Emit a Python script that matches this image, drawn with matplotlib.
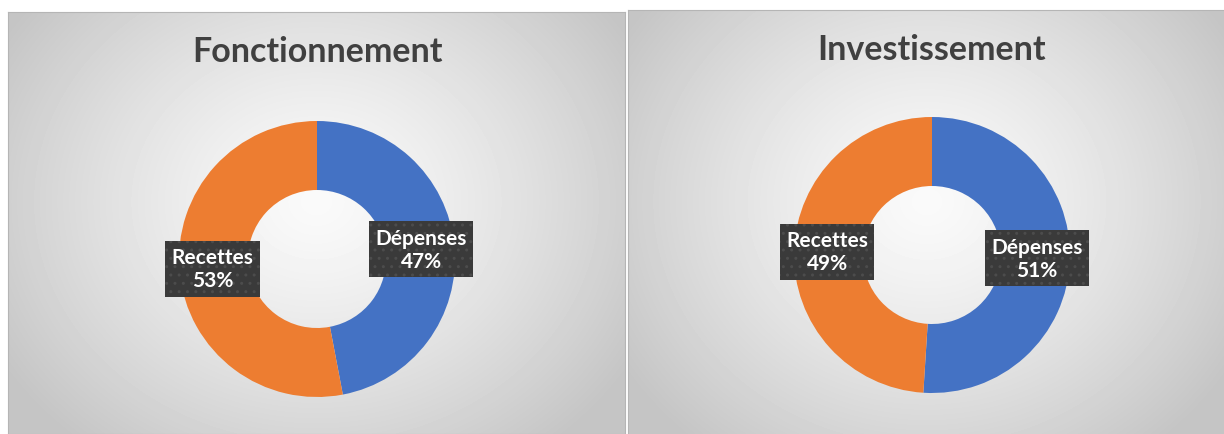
import numpy as np
import matplotlib
matplotlib.use("Agg")
import matplotlib.pyplot as plt

W, H = 1224, 435

titles = ["Fonctionnement", "Investissement"]
categories = ["Dépenses", "Recettes"]
shares = [[47, 53], [51, 49]]
colors = ["#4472C4", "#ED7D31"]

# panel boxes (pixels: left, top, right, bottom) and donut centers/radius
panels = [(8, 13, 625, 435), (628, 11, 1226, 437)]
centers = [(317, 260), (932, 256)]
radius = 138
title_y = [52, 50]

plt.rcParams["font.family"] = ["Lato", "DejaVu Sans"]
fig = plt.figure(figsize=(W / 100, H / 100), dpi=100)
fig.patch.set_facecolor("white")


def frac(x0, y0, x1, y1):
    return [x0 / W, 1 - y1 / H, (x1 - x0) / W, (y1 - y0) / H]


for i in range(2):
    x0, y0, x1, y1 = panels[i]
    bg = fig.add_axes(frac(x0, y0, x1, y1))
    pw, ph = x1 - x0, y1 - y0
    xx, yy = np.meshgrid(np.linspace(-1, 1, pw), np.linspace(-1, 1, ph))
    d = np.sqrt(xx ** 2 + ((yy + 0.1) * 0.8) ** 2)
    shade = 0.98 - 0.21 * np.clip(d / 1.2, 0, 1) ** 1.3
    bg.imshow(shade, cmap="gray", vmin=0, vmax=1, aspect="auto")
    bg.set_xticks([])
    bg.set_yticks([])
    for s in bg.spines.values():
        s.set_color("#b5b5b5")
        s.set_linewidth(0.8)

    cx, cy = centers[i]
    fig.text(cx / W, 1 - title_y[i] / H, titles[i], ha="center", va="center",
             fontsize=24.5, fontweight="bold", color="#404040")

    ax = fig.add_axes(frac(cx - radius, cy - radius, cx + radius, cy + radius))
    ax.patch.set_alpha(0)
    wedges, _ = ax.pie(shares[i], colors=colors, startangle=90, counterclock=False,
                       radius=1, wedgeprops=dict(width=0.5, linewidth=0))
    ax.set_xlim(-1, 1)
    ax.set_ylim(-1, 1)
    ax.axis("off")
    for w, cat, v in zip(wedges, categories, shares[i]):
        ang = np.deg2rad((w.theta1 + w.theta2) / 2)
        ax.text(0.76 * np.cos(ang), 0.76 * np.sin(ang), f"{cat}\n{v}%",
                ha="center", va="center", fontsize=15, fontweight="bold",
                color="white", linespacing=1.2,
                bbox=dict(boxstyle="square,pad=0.3", facecolor="#3a3a3a",
                          edgecolor="#4c4c4c", hatch="..", linewidth=0))

fig.savefig("out.png", dpi=100)
